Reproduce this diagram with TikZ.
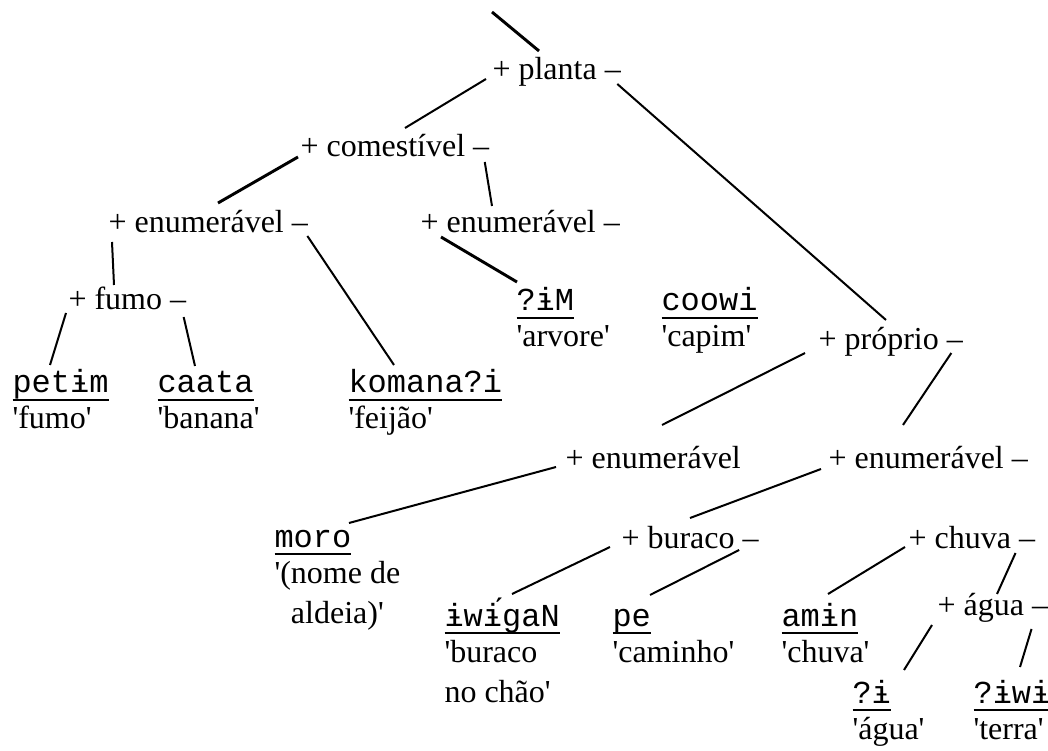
\documentclass[tikz,border=0pt]{standalone}
\usepackage{fontspec}
\setmainfont{Liberation Serif}[Ligatures=TeXOff]
\newfontfamily\mono{Liberation Mono}[Ligatures=TeXOff]
\newcommand{\forma}[1]{\setbox0=\hbox{\mono #1}\rlap{\rule[-3pt]{\wd0}{0.75pt}}\box0}

\begin{document}
\begin{tikzpicture}[x=0.375pt,y=-0.375pt,every node/.style={inner sep=0pt,anchor=base west,font=\fontsize{12}{15}\selectfont},ramo/.style={draw,line width=0.75pt},ramo grosso/.style={draw,line width=1.1pt},gloss/.style={yshift=-13.5pt},gloss2/.style={gloss,yshift=-15pt}]
  \useasboundingbox (0,0) rectangle (1048,751);
  %top
  \coordinate (raiz) at (492,12);
  \node[name=pl,at={(492,80)}]{+ planta –};
  \draw[ramo grosso] (raiz) -- ([shift={(47,-29)}]pl.base west);
  \node[name=com,at={(300,157)}]{+ comestível –};
  \draw[ramo] ([shift={(-6,-1)}]pl.base west) -- ([shift={(105,-29)}]com.base west);
  \node[name=en1,at={(108,233)}]{+ enumerável –};
  \node[name=en2,at={(420,233)}]{+ enumerável –};
  \draw[ramo grosso] ([shift={(-2,0)}]com.base west) -- ([shift={(110,-30)}]en1.base west);
  \draw[ramo] ([shift={(-5,5)}]com.base east) -- ([shift={(72,-27)}]en2.base west);
  \node[name=fu,at={(68,310)}]{+ fumo –};
  \draw[ramo] ([shift={(4,9)}]en1.base west) -- ([shift={(46,-25)}]fu.base west);

  %left leaves
  \node[name=petim,at={(12,393)}]{\forma{petɨm}};
  \node[name=petim-g,at=(petim.base west),gloss]{'fumo'};
  \node[name=caata,at={(157,393)}]{\forma{caata}};
  \node[name=caata-g,at=(caata.base west),gloss]{'banana'};
  \node[name=koma,at={(348,393)}]{\forma{komana?i}};
  \node[name=koma-g,at=(koma.base west),gloss]{'feijão'};
  \node[name=im,at={(516,311)}]{\forma{?ɨM}};
  \node[name=im-g,at=(im.base west),gloss]{'arvore'};
  \node[name=coowi,at={(661,311)}]{\forma{coowi}};
  \node[name=coowi-g,at=(coowi.base west),gloss]{'capim'};
  \draw[ramo] ([shift={(-2,3)}]fu.base west) -- ([shift={(38,-28)}]petim.base west);
  \draw[ramo] ([shift={(-3,7)}]fu.base east) -- ([shift={(38,-27)}]caata.base west);
  \draw[ramo] ([shift={(-1,3)}]en1.base east) -- ([shift={(46,-28)}]koma.base west);
  \draw[ramo grosso] ([shift={(21,4)}]en2.base west) -- ([shift={(1,-29)}]im.base west);

  %right
  \node[name=pr,at={(818,350)}]{+ próprio –};
  \draw[ramo] ([shift={(-4,4)}]pl.base east) -- ([shift={(68,-30)}]pr.base west);
  \node[name=en3,at={(565,468)}]{+ enumerável};
  \node[name=en4,at={(828,468)}]{+ enumerável –};
  \draw[ramo] ([shift={(-13,3)}]pr.base west) -- ([shift={(97,-43)}]en3.base west);
  \draw[ramo] ([shift={(-12,3)}]pr.base east) -- ([shift={(75,-43)}]en4.base west);
  \node[name=moro,at={(274,547)}]{\forma{moro}};
  \node[name=moro-g,at=(moro.base west),gloss2,align=center]{'(nome de\\aldeia)'};
  \draw[ramo] ([shift={(-9,-1)}]en3.base west) -- ([shift={(75,-24)}]moro.base west);
  \node[name=bu,at={(621,548)}]{+ buraco –};
  \node[name=ch,at={(908,548)}]{+ chuva –};
  \draw[ramo] ([shift={(-7,1)}]en4.base west) -- ([shift={(69,-30)}]bu.base west);

  %bottom leaves
  \node[name=iwig,at={(444,626)}]{\forma{ɨwɨ́gaN}};
  \node[name=iwig-g,at=(iwig.base west),gloss2,align=left]{'buraco\\no chão'};
  \node[name=pe,at={(612,626)}]{\forma{pe}};
  \node[name=pe-g,at=(pe.base west),gloss]{'caminho'};
  \node[name=amin,at={(781,626)}]{\forma{amɨn}};
  \node[name=amin-g,at=(amin.base west),gloss]{'chuva'};
  \node[name=ag,at={(937,615)}]{+ água –};
  \node[name=qi,at={(852,703)}]{\forma{?ɨ}};
  \node[name=qi-g,at=(qi.base west),gloss]{'água'};
  \node[name=qiwi,at={(973,703)}]{\forma{?ɨwɨ}};
  \node[name=qiwi-g,at=(qiwi.base west),gloss]{'terra'};
  \draw[ramo] ([shift={(-11,-1)}]bu.base west) -- ([shift={(68,-32)}]iwig.base west);
  \draw[ramo] ([shift={(-20,2)}]bu.base east) -- ([shift={(38,-31)}]pe.base west);
  \draw[ramo] ([shift={(-3,-1)}]ch.base west) -- ([shift={(47,-32)}]amin.base west);
  \draw[ramo] ([shift={(-20,5)}]ch.base east) -- ([shift={(60,-21)}]ag.base west);
  \draw[ramo] ([shift={(-5,10)}]ag.base west) -- ([shift={(52,-33)}]qi.base west);
  \draw[ramo] ([shift={(-17,14)}]ag.base east) -- ([shift={(47,-36)}]qiwi.base west);
\end{tikzpicture}
\end{document}
